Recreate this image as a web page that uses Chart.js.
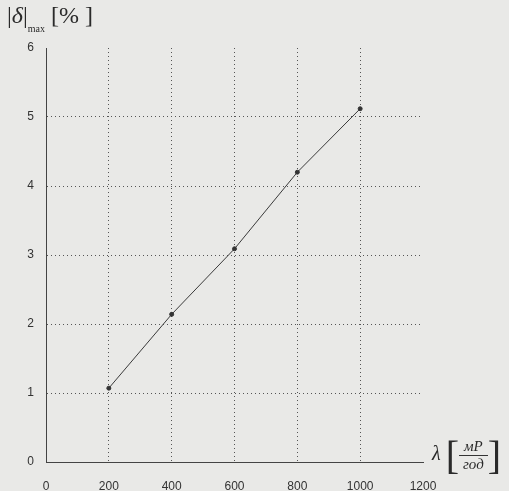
<!DOCTYPE html>
<html>
<head>
<meta charset="utf-8">
<script src="https://cdn.jsdelivr.net/npm/chart.js@4/dist/chart.umd.min.js"></script>
<style>
  html, body { margin: 0; padding: 0; background: #e9e9e7; }
  #wrap { position: relative; width: 509px; height: 491px; overflow: hidden; }
  #wrap canvas { position: absolute; left: 0; top: 0; }
  .ttl { position: absolute; font-family: "Liberation Serif", "DejaVu Serif", serif; color: #2a2a2a; white-space: nowrap; }
  .frac { display: inline-block; vertical-align: middle; text-align: center; font-style: italic; font-size: 15px; line-height: 17px; }
  .frac span { display: block; padding: 0 4px; }
  .frac .num { border-bottom: 1px solid #333; }
  .br { font-size: 40px; vertical-align: middle; font-weight: 300; }
</style>
</head>
<body>
<div id="wrap">
  <canvas id="chart" width="509" height="491"></canvas>
  <div class="ttl" style="left:7px;top:2px;font-size:24px;">|<i>δ</i>|<sub style="font-size:10px;position:relative;top:3px;">max</sub>&nbsp;[%&nbsp;]</div>
  <div class="ttl" style="left:432px;top:432px;font-size:20px;">
    <i>λ</i>&nbsp;<span class="br">[</span><span class="frac"><span class="num">мР</span><span>год</span></span><span class="br">]</span>
  </div>
</div>
<script>
// dose rate λ, mR/h
const lambdaVals = [200, 400, 600, 800, 1000];
// max relative error |δ|max, %
const deltaMax = [1.07, 2.14, 3.09, 4.2, 5.12];

const xTicks = [0, 200, 400, 600, 800, 1000, 1200];
const yTicks = [0, 1, 2, 3, 4, 5, 6];

const GRID = '#555';
const INK = '#333';

const ctx = document.getElementById('chart').getContext('2d');
new Chart(ctx, {
  type: 'line',
  data: {
    datasets: [{
      data: lambdaVals.map((x, i) => ({ x, y: deltaMax[i] })),
      borderColor: '#3a3a3a',
      borderWidth: 1,
      pointRadius: 2,
      pointBackgroundColor: '#333',
      pointBorderColor: '#333',
      tension: 0,
    }]
  },
  options: {
    responsive: false,
    animation: false,
    layout: { padding: { left: 0, top: 48, right: 86, bottom: 0 } },
    plugins: { legend: { display: false }, tooltip: { enabled: false } },
    scales: {
      x: {
        type: 'linear', min: 0, max: 1200,
        afterBuildTicks: s => { s.ticks = xTicks.map(v => ({ value: v })); },
        afterFit: s => { s.height = 29; },
        border: { display: true, color: '#444', width: 1, dash: [1, 3] },
        grid: {
          drawTicks: false,
          color: c => (c.tick.value === 0 || c.tick.value === 1200) ? 'rgba(0,0,0,0)' : GRID,
          lineWidth: 1,
        },
        ticks: { color: INK, padding: 17, font: { family: 'Liberation Sans', size: 12 }, callback: v => String(v) },
      },
      y: {
        min: 0, max: 6,
        afterBuildTicks: s => { s.ticks = yTicks.map(v => ({ value: v })); },
        afterFit: s => { s.width = 46; },
        border: { display: true, color: '#444', width: 1, dash: [1, 3] },
        grid: {
          drawTicks: false,
          color: c => (c.tick.value === 0 || c.tick.value === 6) ? 'rgba(0,0,0,0)' : GRID,
          lineWidth: 1,
        },
        ticks: { color: INK, padding: 12, font: { family: 'Liberation Sans', size: 12 }, callback: v => String(v) },
      }
    }
  }
});
</script>
</body>
</html>
